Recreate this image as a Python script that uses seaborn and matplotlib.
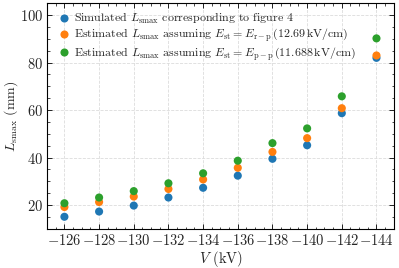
import matplotlib
matplotlib.use("Agg")
import matplotlib.pyplot as plt
import seaborn as sns
import pandas as pd
from matplotlib.ticker import MultipleLocator

V = [-126, -128, -130, -132, -134, -136, -138, -140, -142, -144]
sim = [15.1, 17.3, 19.8, 23.2, 27.3, 32.4, 39.5, 45.2, 58.7, 82.0]
est_rp = [19.2, 21.3, 23.6, 26.8, 30.8, 35.7, 42.4, 48.2, 60.8, 83.0]
est_pp = [20.8, 23.2, 25.9, 29.2, 33.4, 38.7, 46.1, 52.3, 65.8, 90.2]
labels = [
    r"Simulated $L_{\rm smax}$ corresponding to figure 4",
    r"Estimated $L_{\rm smax}$ assuming $E_{\rm st}=E_{\rm r-p}\,(12.69\,{\rm kV/cm})$",
    r"Estimated $L_{\rm smax}$ assuming $E_{\rm st}=E_{\rm p-p}\,(11.688\,{\rm kV/cm})$",
]

sns.set_theme(style="ticks")
plt.rcParams.update({
    "font.family": "serif",
    "font.serif": ["cmr10"],
    "mathtext.fontset": "cm",
    "axes.formatter.use_mathtext": True,
    "axes.unicode_minus": True,
    "xtick.direction": "in",
    "ytick.direction": "in",
    "xtick.top": True,
    "ytick.right": True,
    "xtick.minor.visible": True,
    "ytick.minor.visible": True,
    "axes.edgecolor": "black",
    "axes.linewidth": 0.8,
})

df = pd.DataFrame({
    "V": V * 3,
    "L": sim + est_rp + est_pp,
    "series": [labels[0]] * len(V) + [labels[1]] * len(V) + [labels[2]] * len(V),
})

fig = plt.figure(figsize=(3.99, 2.68), dpi=100)
ax = fig.add_axes([0.118, 0.146, 0.869, 0.842])
sns.scatterplot(data=df, x="V", y="L", hue="series", hue_order=labels,
                palette=["#1f77b4", "#ff7f0e", "#2ca02c"], s=34,
                edgecolor="none", ax=ax, zorder=3)

ax.set_xlim(-125, -145)
ax.set_ylim(10, 105)
ax.set_xticks(V)
ax.set_yticks([20, 40, 60, 80, 100])
ax.xaxis.set_minor_locator(MultipleLocator(0.5))
ax.yaxis.set_minor_locator(MultipleLocator(5))
ax.tick_params(which="major", length=3.5, width=0.6, labelsize=10.5, color="black", pad=3)
ax.tick_params(which="minor", length=1.8, width=0.5, color="black")
ax.grid(True, which="major", linestyle="--", color="#dcdcdc", linewidth=0.6)
ax.set_xlabel(r"$V$ (kV)", fontsize=10.5, labelpad=1)
ax.set_ylabel(r"$L_{\rm smax}$ (mm)", fontsize=10)
ax.yaxis.set_label_coords(-0.078, 0.5)
leg = ax.legend(loc="upper left", frameon=False, fontsize=8.6, handletextpad=0.0,
                handlelength=1.6, labelspacing=0.1, borderaxespad=0.25, markerscale=1.0)
fig.savefig("out.png", dpi=100)
